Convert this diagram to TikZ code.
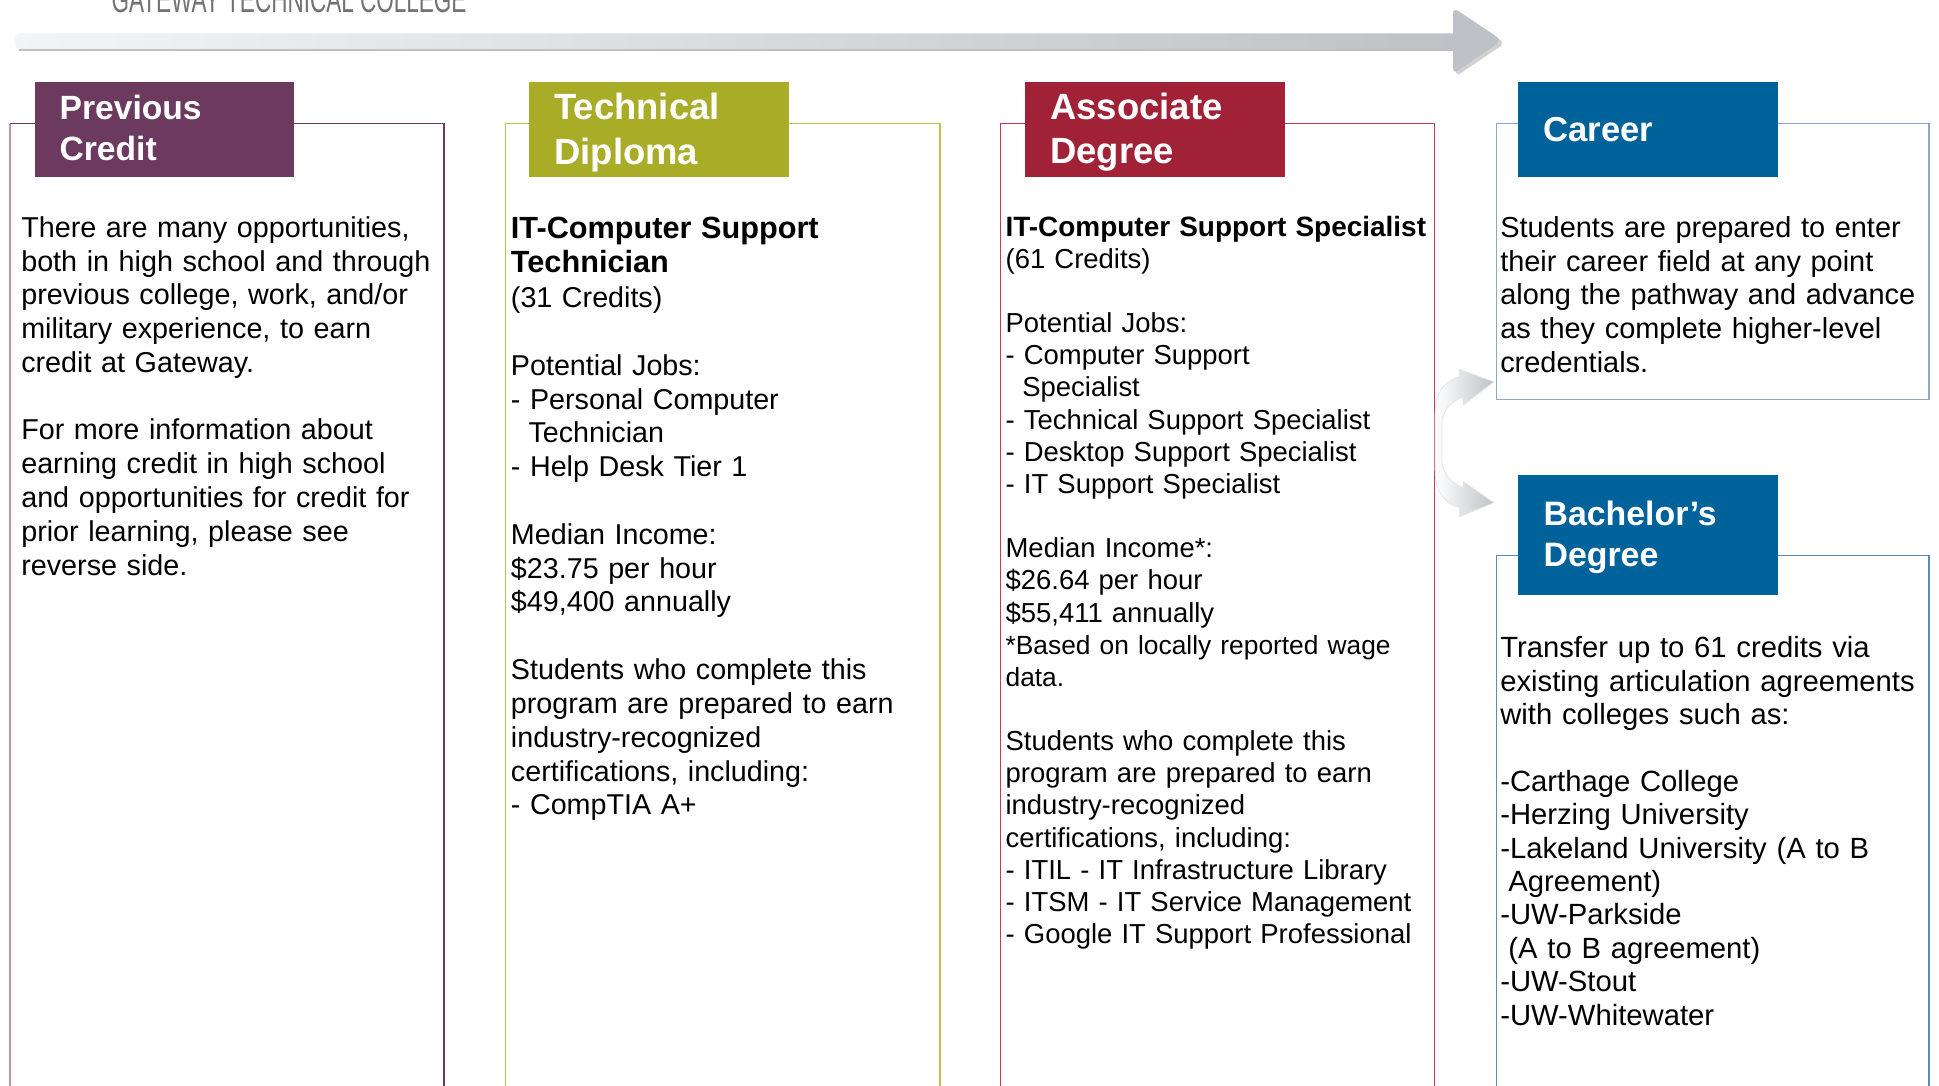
\documentclass[tikz,border=0pt]{standalone}
\usepackage{fontspec}
\setmainfont{Liberation Sans}
\usepackage{graphicx}
\usetikzlibrary{arrows.meta,shadings}
\definecolor{cPurple}{HTML}{6B3A5E}
\definecolor{cPurpleL}{HTML}{B894B2}
\definecolor{cOlive}{HTML}{A9AC26}
\definecolor{cOliveL}{HTML}{BFC24A}
\definecolor{cRed}{HTML}{A12237}
\definecolor{cRedL}{HTML}{C43A50}
\definecolor{cBlue}{HTML}{00629B}
\definecolor{cBlueL}{HTML}{8EA7C6}
\definecolor{cBlueM}{HTML}{5E89B4}
\definecolor{cArrow}{HTML}{BEC2C7}
\definecolor{cArrowL}{HTML}{F3F4F5}
\begin{document}
\begin{tikzpicture}[x=1pt,y=-1pt,
  hdr/.style={rectangle, inner sep=0pt, minimum width=210pt, minimum height=77pt},
  hdrtext/.style={anchor=base west, inner sep=0pt, text=white, align=left, text width=190pt},
  body/.style={anchor=base west, inner sep=0pt, align=left, text width=345pt, font=\fontsize{23.25}{27.3}\selectfont},
  frame/.style={line width=1.1pt}]
\useasboundingbox (0,0) rectangle (1568,878);
\fill[white] (0,0) rectangle (1568,878);

% title (cut at top, as in the original)
\node[anchor=base west, inner sep=0pt, text=black!55] (title) at (90,10)
  {\scalebox{0.607}[1]{\fontsize{30}{30}\selectfont GATEWAY TECHNICAL COLLEGE}};

% top arrow
\shade[left color=cArrowL, right color=cArrow, rounded corners=4pt] (12,27) rectangle (1178,40);
\draw[black!25, line width=1.5pt] (15,40.5) -- (1176,40.5);
\fill[black!18, rounded corners=5pt] (1177,8) -- (1217,35) -- (1177,62) -- cycle;
\fill[cArrow, rounded corners=5pt] (1175,6) -- (1214.5,32.5) -- (1175,60) -- cycle;

% column frames
\draw[frame, cPurple] (359,878) -- (359,100) -- (8,100);
\draw[frame, cPurpleL] (8,100) -- (8,878);
\draw[frame, cOliveL] (409,878) -- (409,100) -- (760,100) -- (760,878);
\draw[frame, cRedL] (809,878) -- (809,100) -- (1160,100) -- (1160,878);
\draw[frame, cBlueL] (1210,100) rectangle (1560,323);
\draw[frame, cBlueM] (1210,878) -- (1210,449) -- (1560,449) -- (1560,878);

% curved double arrow (to Career and to Bachelor's)
\shade[left color=white, right color=cArrow, draw=black!10, line width=0.6pt]
  (1180.1,304.6) -- (1180,298.7) -- (1208,308.7) -- (1183.4,327.5) -- (1182.8,320.8)
  .. controls (1172,326) and (1166,332) .. (1166,345) -- (1166,370)
  .. controls (1166,383) and (1172,389) .. (1182.8,394.4)
  -- (1183.4,389.5) -- (1208,406.5) -- (1180,417.8) -- (1180.1,410.6)
  .. controls (1166,406) and (1160.5,396) .. (1160.5,380) -- (1160.5,335)
  .. controls (1160.5,319) and (1166,309) .. (1180.1,304.6) -- cycle;

% headers
\node[hdr, fill=cPurple] (hPrev) at (133,104.5) {};
\node[hdr, fill=cOlive] (hTech) at (533,104.5) {};
\node[hdr, fill=cRed] (hAssoc) at (934,104.5) {};
\node[hdr, fill=cBlue] (hCareer) at (1332.5,104.5) {};
\node[hdr, fill=cBlue, minimum height=97pt] (hBach) at (1332.5,432.5) {};

\node[hdrtext, font=\bfseries\fontsize{27.2}{33}\selectfont] (hPrevT) at (48,97) {Previous\\Credit};
\node[hdrtext, font=\bfseries\fontsize{29.5}{36}\selectfont] (hTechT) at (448,97) {Technical\\Diploma};
\node[hdrtext, font=\bfseries\fontsize{29.5}{35.5}\selectfont] (hAssocT) at (849,97) {Associate\\Degree};
\node[hdrtext, font=\bfseries\fontsize{28}{33}\selectfont] (hCareerT) at (1248,114.5) {Career};
\node[hdrtext, font=\bfseries\fontsize{27.4}{33.7}\selectfont] (hBachT) at (1248,424.6) {Bachelor’s\\Degree};

% body texts
\node[body] (tPrev) at (17,192) {There are many opportunities,\\
both in high school and through\\
previous college, work, and/or\\
military experience, to earn\\
credit at Gateway.\\[27.3pt]
For more information about\\
earning credit in high school\\
and opportunities for credit for\\
prior learning, please see\\
reverse side.};

\node[body, font=\fontsize{23.2}{27.35}\selectfont] (tTech) at (413,193) {{\fontsize{24.8}{27.35}\selectfont\bfseries IT-Computer Support\\
Technician}\\[1pt]
(31 Credits)\\[27.35pt]
Potential Jobs:\\
- Personal Computer\\
\hspace*{0.611em}Technician\\
- Help Desk Tier 1\\[27.35pt]
Median Income:\\
\$23.75 per hour\\
\$49,400 annually\\[27.35pt]
Students who complete this\\
program are prepared to earn\\
industry-recognized\\
certifications, including:\\
- CompTIA A+};

\node[body, font=\fontsize{22.2}{26}\selectfont] (tAssoc) at (813,191) {{\fontsize{22.6}{26}\selectfont\bfseries IT-Computer Support Specialist}\\
(61 Credits)\\[26pt]
Potential Jobs:\\
- Computer Support\\
\hspace*{0.611em}Specialist\\
- Technical Support Specialist\\
- Desktop Support Specialist\\
- IT Support Specialist\\[26pt]
Median Income*:\\
\$26.64 per hour\\
\$55,411 annually\\
{\fontsize{21.3}{26}\selectfont *Based on locally reported wage\\
data.}\\[26pt]
Students who complete this\\
program are prepared to earn\\
industry-recognized\\
certifications, including:\\
- ITIL - IT Infrastructure Library\\
- ITSM - IT Service Management\\
- Google IT Support Professional};

\node[body, font=\fontsize{23.4}{27.25}\selectfont] (tCareer) at (1213,192) {Students are prepared to enter\\
their career field at any point\\
along the pathway and advance\\
as they complete higher-level\\
credentials.};

\node[body, font=\fontsize{23.65}{27}\selectfont] (tBach) at (1213,532) {Transfer up to 61 credits via\\
existing articulation agreements\\
with colleges such as:\\[27pt]
-Carthage College\\
-Herzing University\\
-Lakeland University (A to B\\
\hspace*{0.278em}Agreement)\\
-UW-Parkside\\
\hspace*{0.278em}(A to B agreement)\\
-UW-Stout\\
-UW-Whitewater};
\end{tikzpicture}
\end{document}
